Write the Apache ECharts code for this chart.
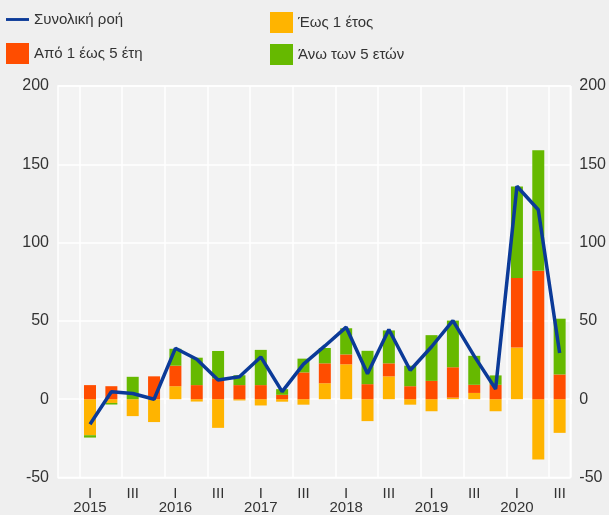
<!DOCTYPE html>
<html>
<head>
<meta charset="utf-8">
<script src="https://cdn.jsdelivr.net/npm/echarts@6/dist/echarts.min.js"></script>
<style>
  html, body { margin: 0; padding: 0; background: #efefef; }
  #chart { width: 609px; height: 515px; }
</style>
</head>
<body>
<div id="chart"></div>
<script>
// quarters, the first slot is left empty like in the original
var quarters = ['2014 IV',
  '2015 I', '2015 II', '2015 III', '2015 IV',
  '2016 I', '2016 II', '2016 III', '2016 IV',
  '2017 I', '2017 II', '2017 III', '2017 IV',
  '2018 I', '2018 II', '2018 III', '2018 IV',
  '2019 I', '2019 II', '2019 III', '2019 IV',
  '2020 I', '2020 II', '2020 III']

var shortTerm = [null, -23, -2.4, -10.8, -14.6, 8.3, -1.5, -18.3, -0.8, -4, -1.6, -3.5, 10.2,
  22.3, -14, 14.6, -3.5, -7.7, 1, 4, -7.7, 33, -38.5, -21.5]
var midTerm = [null, 9, 8.3, 0, 14.6, 13.1, 9, 13.1, 9, 9, 2.8, 17.1, 12.7,
  6.3, 9.6, 8.3, 8.3, 11.7, 19.4, 5.2, 9.2, 44.4, 82, 15.8]
var longTerm = [null, -1.5, -1, 14.3, 0, 10.8, 17.5, 17.7, 6.3, 22.5, 3.6, 8.8, 9.8,
  16.7, 21.3, 21, 13.1, 29.2, 29.8, 18.5, 6, 58.4, 77, 35.6]
var totalFlow = [null, -16, 4.8, 3.6, 0, 32.5, 25.5, 12.2, 14.3, 27, 4.8, 22.4, 34,
  46, 16.3, 44.5, 18.5, 33.5, 50.2, 27.5, 6.5, 136, 121, 29.5]

var yTicks = [-50, 0, 50, 100, 150, 200]

var colors = {
  line: '#0b3a98',
  short: '#ffb400',
  mid: '#ff4d00',
  long: '#66b900'
}

var textColor = '#333'
var fontFamily = 'Liberation Sans, Arial, sans-serif'
var everyOther = function (i) { return i % 2 === 1 }
var lineIcon = 'path://M0,0 L24,0 L24,3 L0,3 Z'

var chart = echarts.init(document.getElementById('chart'))

var yAxisBase = {
  type: 'value',
  min: yTicks[0],
  max: yTicks[yTicks.length - 1],
  interval: 50,
  axisLine: { show: false },
  axisTick: { show: false },
  splitLine: { lineStyle: { color: '#fff', width: 1.5 } },
  axisLabel: { color: textColor, fontSize: 16, fontFamily: fontFamily, margin: 9 }
}

var legendBase = {
  orient: 'vertical',
  top: 12,
  padding: 0,
  itemWidth: 23,
  itemHeight: 21,
  itemGap: 11,
  textStyle: { color: textColor, fontSize: 15, fontFamily: fontFamily }
}

chart.setOption({
  backgroundColor: '#efefef',
  animation: false,
  textStyle: { fontFamily: fontFamily },
  legend: [
    Object.assign({}, legendBase, {
      left: 6,
      itemGap: 16,
      data: [
        { name: 'Συνολική ροή', icon: lineIcon },
        { name: 'Από 1 έως 5 έτη', icon: 'rect' }
      ]
    }),
    Object.assign({}, legendBase, {
      left: 270,
      data: [
        { name: 'Έως 1 έτος', icon: 'rect' },
        { name: 'Άνω των 5 ετών', icon: 'rect' }
      ]
    })
  ],
  grid: {
    show: true,
    left: 58,
    right: 37,
    top: 86,
    bottom: 33,
    backgroundColor: '#f3f3f3',
    borderColor: '#fff',
    borderWidth: 1.5
  },
  xAxis: {
    type: 'category',
    data: quarters,
    boundaryGap: true,
    axisLine: { show: false },
    axisTick: {
      show: true,
      interval: everyOther,
      length: 5,
      lineStyle: { color: '#fff', width: 1.5 }
    },
    splitLine: {
      show: true,
      interval: everyOther,
      lineStyle: { color: '#fff', width: 1.5 }
    },
    axisLabel: {
      interval: 0,
      color: textColor,
      fontSize: 15,
      lineHeight: 14,
      margin: 9,
      fontFamily: fontFamily,
      formatter: function (value) {
        var parts = value.split(' ')
        if (parts[1] === 'I') return 'I\n' + parts[0]
        if (parts[1] === 'III') return 'III'
        return ''
      }
    }
  },
  yAxis: [
    Object.assign({}, yAxisBase, { position: 'left' }),
    Object.assign({}, yAxisBase, { position: 'right', splitLine: { show: false } })
  ],
  series: [
    {
      name: 'Έως 1 έτος',
      type: 'bar',
      stack: 'flow',
      barWidth: 12,
      itemStyle: { color: colors.short },
      data: shortTerm
    },
    {
      name: 'Από 1 έως 5 έτη',
      type: 'bar',
      stack: 'flow',
      barWidth: 12,
      itemStyle: { color: colors.mid },
      data: midTerm
    },
    {
      name: 'Άνω των 5 ετών',
      type: 'bar',
      stack: 'flow',
      barWidth: 12,
      itemStyle: { color: colors.long },
      data: longTerm
    },
    {
      name: 'Συνολική ροή',
      type: 'line',
      symbol: 'none',
      z: 5,
      lineStyle: { color: colors.line, width: 3.5 },
      itemStyle: { color: colors.line },
      data: totalFlow
    }
  ]
})
</script>
</body>
</html>
